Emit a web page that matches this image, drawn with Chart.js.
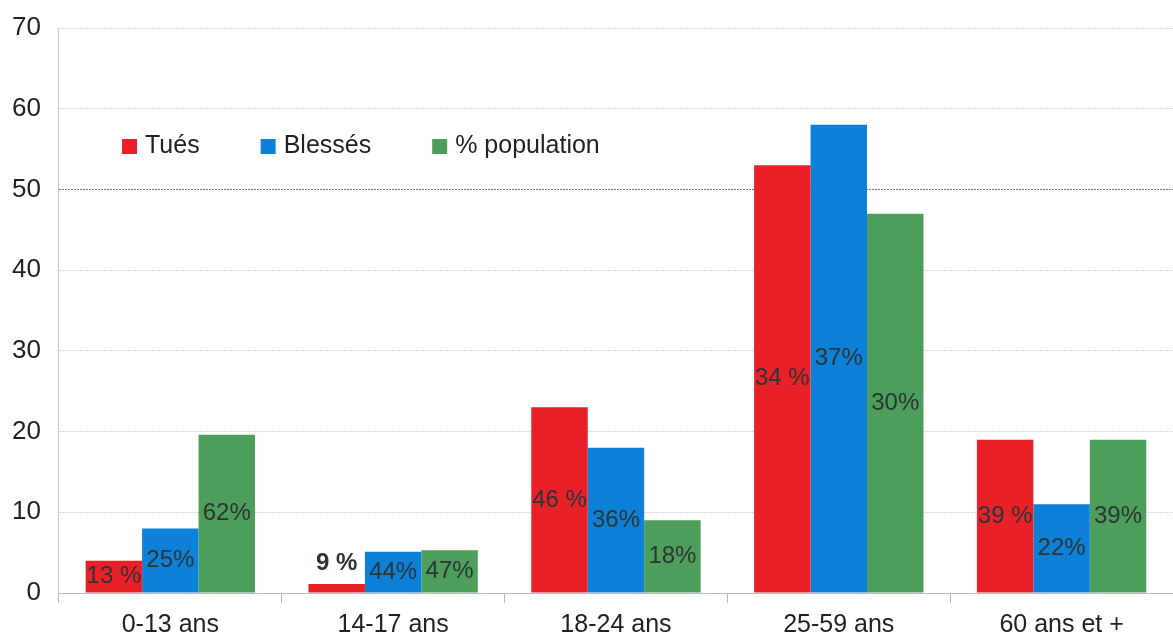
<!DOCTYPE html>
<html lang="fr">
<head>
<meta charset="utf-8">
<title>Tués, blessés et population par âge</title>
<script src="https://cdn.jsdelivr.net/npm/chart.js"></script>
<style>
  html, body { margin: 0; padding: 0; background: #fff; }
  #wrap { width: 1173px; height: 635px; position: relative; }
</style>
</head>
<body>
<div id="wrap"><canvas id="chart"></canvas></div>
<script>
// data
const categories = ["0-13 ans", "14-17 ans", "18-24 ans", "25-59 ans", "60 ans et +"];
const tues = [4, 1.1, 23, 53, 19];
const blesses = [8, 5.1, 18, 58, 11];
const population = [19.6, 5.3, 9, 47, 19];
const tuesLabels = ["13 %", "9 %", "46 %", "34 %", "39 %"];
const blessesLabels = ["25%", "44%", "36%", "37%", "22%"];
const populationLabels = ["62%", "47%", "18%", "30%", "39%"];
const yTicks = [0, 10, 20, 30, 40, 50, 60, 70];

const FONT = "'Liberation Sans', Arial, sans-serif";

// percentage text drawn on each bar
const barLabels = {
  id: 'barLabels',
  afterDatasetsDraw(chart) {
    const ctx = chart.ctx;
    ctx.save();
    ctx.textAlign = 'center';
    ctx.textBaseline = 'middle';
    ctx.fillStyle = '#2b3535';
    chart.data.datasets.forEach((ds, i) => {
      const meta = chart.getDatasetMeta(i);
      meta.data.forEach((bar, j) => {
        const h = bar.base - bar.y;
        let y = bar.y + h / 2;
        if (h < 26) {
          // too small, put it above the bar
          y = bar.y - 21;
          ctx.font = "bold 24px " + FONT;
        } else {
          ctx.font = "24px " + FONT;
        }
        ctx.fillText(ds.pctLabels[j], bar.x, y);
      });
    });
    ctx.restore();
  }
};

// legend inside the plot area
const insideLegend = {
  id: 'insideLegend',
  afterDraw(chart) {
    const ctx = chart.ctx;
    ctx.save();
    ctx.font = "25px " + FONT;
    ctx.textBaseline = 'middle';
    let x = 122;
    const y = 146;
    chart.data.datasets.forEach(ds => {
      ctx.fillStyle = ds.backgroundColor;
      ctx.fillRect(x, y - 7, 15, 15);
      ctx.fillStyle = '#222';
      ctx.fillText(ds.label, x + 23, y);
      x += 23 + ctx.measureText(ds.label).width + 61;
    });
    ctx.restore();
  }
};

new Chart(document.getElementById('chart'), {
  type: 'bar',
  data: {
    labels: categories,
    datasets: [
      { label: 'Tués', data: tues, backgroundColor: '#ea2028', pctLabels: tuesLabels },
      { label: 'Blessés', data: blesses, backgroundColor: '#0d80d8', pctLabels: blessesLabels },
      { label: '% population', data: population, backgroundColor: '#4d9e5b', pctLabels: populationLabels }
    ]
  },
  options: {
    responsive: true,
    maintainAspectRatio: false,
    animation: false,
    layout: { padding: { top: 0, left: -6, right: 0, bottom: -13 } },
    datasets: { bar: { barPercentage: 1, categoryPercentage: 0.76 } },
    plugins: {
      legend: { display: false },
      tooltip: { enabled: false }
    },
    scales: {
      x: {
        grid: {
          offset: true,
          drawOnChartArea: false,
          drawTicks: true,
          tickLength: 10,
          color: '#bbb'
        },
        border: { color: '#bbb' },
        ticks: { font: { family: FONT, size: 25, lineHeight: 1 }, color: '#222', padding: 10 }
      },
      y: {
        min: 0,
        max: 70,
        afterBuildTicks(axis) { axis.ticks = yTicks.map(v => ({ value: v })); },
        grid: {
          drawTicks: false,
          color: ctx => ctx.tick && ctx.tick.value === 50 ? '#777' : '#d6d6d6'
        },
        border: { color: '#c8c8c8', dash: [2, 1] },
        ticks: { font: { family: FONT, size: 26, lineHeight: 0.77 }, color: '#222', padding: 18 }
      }
    }
  },
  plugins: [barLabels, insideLegend]
});
</script>
</body>
</html>
